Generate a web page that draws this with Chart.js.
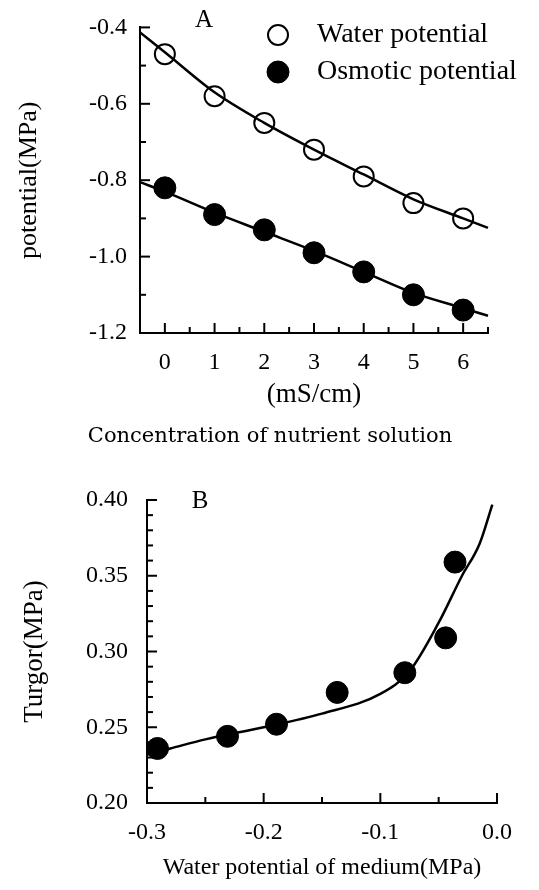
<!DOCTYPE html>
<html><head><meta charset="utf-8">
<script src="https://cdn.jsdelivr.net/npm/chart.js@4.4.1/dist/chart.umd.min.js"></script>
<style>
html,body{margin:0;padding:0;background:#fff;}
body{width:539px;height:890px;position:relative;overflow:hidden;}
.w{position:absolute;left:0;width:539px;}
</style></head><body>
<div class="w" style="top:0;height:460px"><canvas id="ca"></canvas></div>
<div class="w" style="top:460px;height:430px"><canvas id="cb"></canvas></div>
<script>
// ---- Panel A data ----
const concA = [0, 1, 2, 3, 4, 5, 6];
const waterPot = [-0.47, -0.58, -0.65, -0.72, -0.79, -0.86, -0.90];
const osmoticPot = [-0.82, -0.89, -0.93, -0.99, -1.04, -1.10, -1.14];
const fitXA = [-0.5, 0, 1, 2, 3, 4, 5, 6, 6.5];
const waterFit = [-0.413, -0.465, -0.57, -0.65, -0.72, -0.785, -0.85, -0.90, -0.925];
const osmoticFit = [-0.805, -0.83, -0.885, -0.935, -0.985, -1.04, -1.095, -1.135, -1.155];
const xTicksA = [0, 1, 2, 3, 4, 5, 6];
const xMinorA = [0.5, 1.5, 2.5, 3.5, 4.5, 5.5, 6.5];
const yTicksA = [-0.4, -0.6, -0.8, -1.0, -1.2];
const yMinorA = [-0.5, -0.7, -0.9, -1.1];

// ---- Panel B data ----
const mediumWP = [-0.291, -0.231, -0.189, -0.137, -0.079, -0.044, -0.036];
const turgor = [0.236, 0.244, 0.252, 0.273, 0.286, 0.309, 0.359];
const fitXB = [-0.3, -0.28, -0.25, -0.2, -0.15, -0.1, -0.075, -0.05, -0.03, -0.015, -0.004];
const turgorFit = [0.232, 0.236, 0.242, 0.250, 0.259, 0.272, 0.287, 0.319, 0.350, 0.371, 0.397];
const xTicksB = [-0.3, -0.2, -0.1, 0.0];
const xMinorB = [-0.25, -0.15, -0.05];
const yTicksB = [0.20, 0.25, 0.30, 0.35, 0.40];
const yMinorB = [0.21, 0.22, 0.23, 0.24, 0.26, 0.27, 0.28, 0.29, 0.31, 0.32, 0.33, 0.34, 0.36, 0.37, 0.38, 0.39];

const SERIF = "'Liberation Serif', 'Times New Roman', serif";
const pts = (xs, ys) => xs.map((x, i) => ({x: x, y: ys[i]}));

const deco = {
  id: 'deco',
  afterDraw(chart, args, o) {
    const ctx = chart.ctx, xs = chart.scales.x, ys = chart.scales.y, a = chart.chartArea;
    ctx.save();
    ctx.strokeStyle = '#000'; ctx.fillStyle = '#000'; ctx.lineWidth = 2;
    const seg = (x1, y1, x2, y2) => { ctx.beginPath(); ctx.moveTo(x1, y1); ctx.lineTo(x2, y2); ctx.stroke(); };
    o.xMajor.forEach(v => { const p = xs.getPixelForValue(v); seg(p, a.bottom, p, a.bottom - o.majLen); });
    o.xMinor.forEach(v => { const p = xs.getPixelForValue(v); seg(p, a.bottom, p, a.bottom - o.minLen); });
    o.yMajor.forEach(v => { const p = ys.getPixelForValue(v); seg(a.left, p, a.left + o.majLen, p); });
    o.yMinor.forEach(v => { const p = ys.getPixelForValue(v); seg(a.left, p, a.left + o.minLen, p); });
    (o.texts || []).forEach(t => {
      ctx.font = t.font; ctx.textAlign = t.align || 'center'; ctx.textBaseline = 'middle';
      ctx.fillText(t.text, t.x, t.y);
    });
    if (o.legend) {
      const L = o.legend;
      let k = 0;
      chart.data.datasets.forEach(ds => {
        if (!ds.inLegend) return;
        const y = L.y + k * L.gap;
        ctx.beginPath(); ctx.arc(L.x, y, ds.pointRadius, 0, Math.PI * 2);
        ctx.lineWidth = ds.pointBorderWidth;
        ctx.fillStyle = ds.pointBackgroundColor; ctx.fill();
        ctx.strokeStyle = ds.pointBorderColor; ctx.stroke();
        ctx.fillStyle = '#000';
        ctx.font = L.font; ctx.textAlign = 'left'; ctx.textBaseline = 'middle';
        ctx.fillText(ds.label, L.tx, y);
        k++;
      });
    }
    ctx.restore();
  }
};

function axisCommon(extra) {
  return Object.assign({
    type: 'linear',
    grid: {display: false, drawTicks: false},
    border: {display: true, color: '#000', width: 2},
  }, extra);
}

// ---- Chart A ----
new Chart(document.getElementById('ca'), {
  type: 'scatter',
  data: {datasets: [
    {label: 'Water potential', inLegend: true, data: pts(concA, waterPot), pointStyle: 'circle', pointRadius: 10,
     pointBackgroundColor: 'rgba(255,255,255,0)', pointBorderColor: '#000', pointBorderWidth: 2, clip: false},
    {label: 'Osmotic potential', inLegend: true, data: pts(concA, osmoticPot), pointStyle: 'circle', pointRadius: 11,
     pointBackgroundColor: '#000', pointBorderColor: '#000', pointBorderWidth: 1, clip: false},
    {label: 'fit water', type: 'line', data: pts(fitXA, waterFit), borderColor: '#000', borderWidth: 2.5,
     pointRadius: 0, cubicInterpolationMode: 'monotone', fill: false, clip: false},
    {label: 'fit osmotic', type: 'line', data: pts(fitXA, osmoticFit), borderColor: '#000', borderWidth: 2.5,
     pointRadius: 0, cubicInterpolationMode: 'monotone', fill: false, clip: false}
  ]},
  options: {
    responsive: true, maintainAspectRatio: false, animation: false,
    layout: {padding: {top: 20, right: 51, left: 0, bottom: 0}},
    plugins: {
      legend: {display: false}, tooltip: {enabled: false},
      deco: {
        xMajor: xTicksA, xMinor: xMinorA, yMajor: yTicksA, yMinor: yMinorA, majLen: 10, minLen: 6,
        texts: [
          {text: 'A', x: 204, y: 20, font: '25px ' + SERIF},
          {text: 'Concentration of nutrient solution', x: 270, y: 437, font: "21px 'DejaVu Serif', serif"}
        ],
        legend: {x: 278, tx: 317, y: 35, gap: 37, font: '28px ' + SERIF}
      }
    },
    scales: {
      x: axisCommon({
        min: -0.5, max: 6.5,
        afterBuildTicks: s => { s.ticks = xTicksA.map(v => ({value: v})); },
        afterFit: s => { s.height = 127; },
        ticks: {color: '#000', font: {family: SERIF, size: 24}, padding: 15, maxRotation: 0, autoSkip: false,
                callback: v => String(v)},
        title: {display: true, text: '(mS/cm)', color: '#000', font: {family: SERIF, size: 27}, padding: {top: 0, bottom: 49}}
      }),
      y: axisCommon({
        min: -1.2, max: -0.4,
        afterBuildTicks: s => { s.ticks = yTicksA.map(v => ({value: v})); },
        afterFit: s => { s.width = 140; },
        ticks: {color: '#000', font: {family: SERIF, size: 24}, padding: 13, autoSkip: false,
                callback: v => Number(v).toFixed(1)},
        title: {display: true, text: 'potential(MPa)', color: '#000', font: {family: SERIF, size: 26}, padding: {top: 14, bottom: 0}}
      })
    }
  },
  plugins: [deco]
});

// ---- Chart B ----
new Chart(document.getElementById('cb'), {
  type: 'scatter',
  data: {datasets: [
    {label: 'Turgor', data: pts(mediumWP, turgor), pointStyle: 'circle', pointRadius: 11,
     pointBackgroundColor: '#000', pointBorderColor: '#000', pointBorderWidth: 1, clip: false},
    {label: 'fit turgor', type: 'line', data: pts(fitXB, turgorFit), borderColor: '#000', borderWidth: 2.5,
     pointRadius: 0, cubicInterpolationMode: 'monotone', fill: false, clip: false}
  ]},
  options: {
    responsive: true, maintainAspectRatio: false, animation: false,
    layout: {padding: {top: 40, right: 42, left: 0, bottom: 0}},
    plugins: {
      legend: {display: false}, tooltip: {enabled: false},
      deco: {
        xMajor: xTicksB, xMinor: xMinorB, yMajor: yTicksB, yMinor: yMinorB, majLen: 10, minLen: 6,
        texts: [{text: 'B', x: 200, y: 41, font: '25px ' + SERIF}]
      }
    },
    scales: {
      x: axisCommon({
        min: -0.3, max: 0.0,
        afterBuildTicks: s => { s.ticks = xTicksB.map(v => ({value: v})); },
        afterFit: s => { s.height = 87; },
        ticks: {color: '#000', font: {family: SERIF, size: 24}, padding: 15, maxRotation: 0, autoSkip: false,
                callback: v => Number(v).toFixed(1)},
        title: {display: true, text: 'Water potential of medium(MPa)', color: '#000', font: {family: SERIF, size: 24}, padding: {top: 0, bottom: 8}}
      }),
      y: axisCommon({
        min: 0.20, max: 0.40,
        afterBuildTicks: s => { s.ticks = yTicksB.map(v => ({value: v})); },
        afterFit: s => { s.width = 147; },
        ticks: {color: '#000', font: {family: SERIF, size: 24}, padding: 19, autoSkip: false,
                callback: v => Number(v).toFixed(2)},
        title: {display: true, text: 'Turgor(MPa)', color: '#000', font: {family: SERIF, size: 27}, padding: {top: 19, bottom: 0}}
      })
    }
  },
  plugins: [deco]
});
</script>
</body></html>
